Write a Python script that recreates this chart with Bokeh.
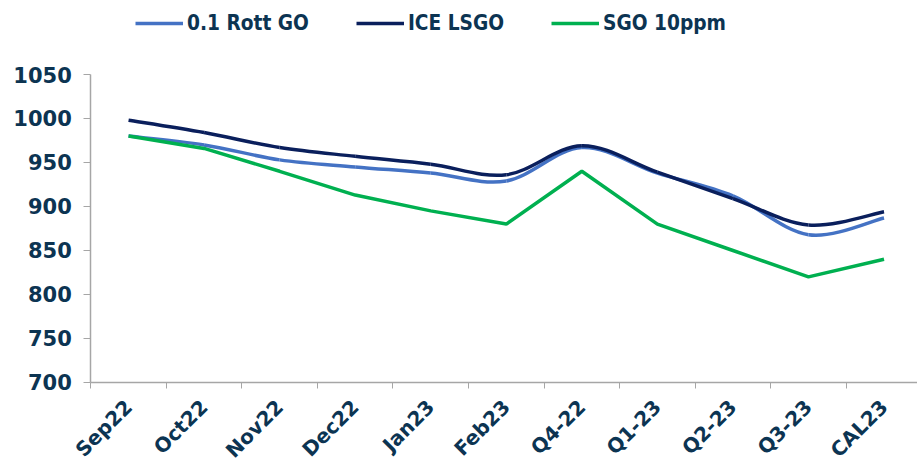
import numpy as np
from math import pi
from bokeh.plotting import figure
from bokeh.models import Range1d, FixedTicker, ColumnDataSource, Legend, LegendItem
from bokeh.embed import file_html
from bokeh.resources import INLINE

categories = ["Sep22", "Oct22", "Nov22", "Dec22", "Jan23", "Feb23",
              "Q4-22", "Q1-23", "Q2-23", "Q3-23", "CAL23"]
rott_go = [980, 970, 953, 945, 938, 929, 967, 938, 912, 868, 887]
ice_lsgo = [998, 984, 967, 957, 948, 936, 969, 939, 909, 879, 894]
sgo_10ppm = [980, 966, 940, 913, 895, 880, 940, 880, 850, 820, 840]
y_ticks = [700, 750, 800, 850, 900, 950, 1000, 1050]

TEXT = "#0c3452"
AXIS = "#a6a6a6"
FONT = "DejaVu Sans"
Y_MIN, Y_MAX = y_ticks[0], y_ticks[-1]
X_EDGE = -0.5


def smooth_source(vals):
    """Bezier segments (Catmull-Rom style, like a smoothed spreadsheet line)."""
    ys = np.asarray(vals, dtype=float)
    xs = np.arange(len(ys), dtype=float)
    n = len(ys)
    xp = np.concatenate([[xs[0]], xs, [xs[-1]]])
    yp = np.concatenate([[ys[0]], ys, [ys[-1]]])
    d = dict(
        x0=xs[:-1], y0=ys[:-1], x1=xs[1:], y1=ys[1:],
        cx0=xp[1:n] + (xp[2:n + 1] - xp[0:n - 1]) / 6.0,
        cy0=yp[1:n] + (yp[2:n + 1] - yp[0:n - 1]) / 6.0,
        cx1=xp[2:n + 1] - (xp[3:n + 2] - xp[1:n]) / 6.0,
        cy1=yp[2:n + 1] - (yp[3:n + 2] - yp[1:n]) / 6.0,
    )
    return ColumnDataSource({k: [float(v) for v in arr] for k, arr in d.items()})


idx = list(range(len(categories)))

# the frame covers the whole figure; both axes are pinned with fixed_location
p = figure(width=917, height=461,
           x_range=Range1d(-1.695, 10.443), y_range=Range1d(610.2, 1134.1),
           output_backend="svg", toolbar_location=None,
           min_border_left=0, min_border_right=0,
           min_border_top=0, min_border_bottom=0)
p.outline_line_color = None
p.xgrid.visible = False
p.ygrid.visible = False

# x axis at y = 700, boundary ticks, rotated category labels
p.xaxis.fixed_location = Y_MIN
p.xaxis.bounds = (X_EDGE, len(categories))
p.xaxis.ticker = FixedTicker(ticks=idx, minor_ticks=[i - 0.5 for i in range(len(categories) + 1)])
p.xaxis.major_label_overrides = {i: c for i, c in zip(idx, categories)}
p.xaxis.major_label_orientation = pi / 4
p.xaxis.major_label_standoff = 15
p.xaxis.major_label_text_font = FONT
p.xaxis.major_label_text_font_style = "bold"
p.xaxis.major_label_text_font_size = "20px"
p.xaxis.major_label_text_color = TEXT
p.xaxis.major_tick_line_color = None
p.xaxis.minor_tick_line_color = AXIS
p.xaxis.minor_tick_out = 6
p.xaxis.minor_tick_in = 0
p.xaxis.axis_line_color = AXIS
p.xaxis.axis_line_width = 1.5

# y axis at the left category edge
p.yaxis.fixed_location = X_EDGE
p.yaxis.bounds = (Y_MIN, Y_MAX)
p.yaxis.ticker = FixedTicker(ticks=y_ticks)
p.yaxis.axis_line_color = AXIS
p.yaxis.axis_line_width = 1.5
p.yaxis.major_tick_line_color = AXIS
p.yaxis.major_tick_out = 7
p.yaxis.major_tick_in = 0
p.yaxis.minor_tick_line_color = None
p.yaxis.major_label_standoff = 12
p.yaxis.major_label_text_font = FONT
p.yaxis.major_label_text_font_style = "bold"
p.yaxis.major_label_text_font_size = "21px"
p.yaxis.major_label_text_color = TEXT

r_rott = p.bezier(x0="x0", y0="y0", x1="x1", y1="y1", cx0="cx0", cy0="cy0",
                  cx1="cx1", cy1="cy1", source=smooth_source(rott_go),
                  line_color="#4472c4", line_width=3.5)
r_ice = p.bezier(x0="x0", y0="y0", x1="x1", y1="y1", cx0="cx0", cy0="cy0",
                 cx1="cx1", cy1="cy1", source=smooth_source(ice_lsgo),
                 line_color="#0a1f5c", line_width=3.5)
r_sgo = p.line(x=idx, y=sgo_10ppm, line_color="#00b050", line_width=3.5)

# legend swatches (points outside the view, only used for the legend glyphs)
l_rott = p.line(x=[0], y=[0], line_color="#4472c4", line_width=3.5)
l_ice = p.line(x=[0], y=[0], line_color="#0a1f5c", line_width=3.5)
l_sgo = p.line(x=[0], y=[0], line_color="#00b050", line_width=3.5)

legend = Legend(items=[LegendItem(label="0.1 Rott GO", renderers=[l_rott]),
                       LegendItem(label="ICE LSGO", renderers=[l_ice]),
                       LegendItem(label="SGO 10ppm", renderers=[l_sgo])],
                orientation="horizontal", location=(135, 426),
                padding=0, margin=0, spacing=47,
                glyph_width=48, glyph_height=20, label_height=20,
                label_standoff=4, border_line_color=None,
                background_fill_alpha=0,
                label_text_font="DejaVu Sans Condensed",
                label_text_font_style="bold",
                label_text_font_size="20.7px",
                label_text_color=TEXT)
p.add_layout(legend)

open("out.html", "w").write(file_html(p, INLINE))
